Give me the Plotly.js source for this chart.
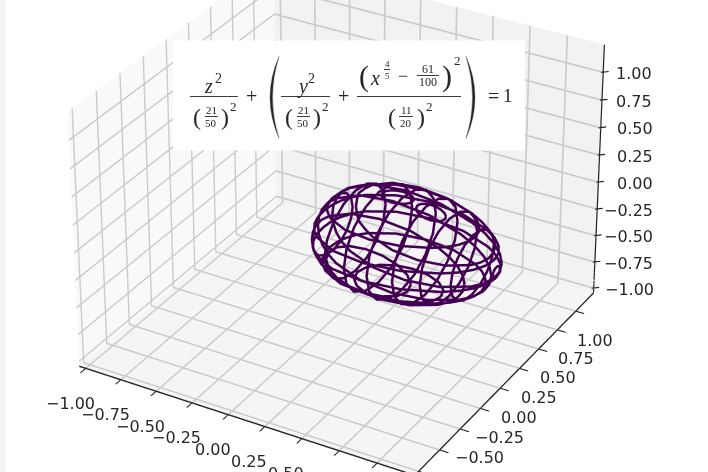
<!DOCTYPE html>
<html><head><meta charset="utf-8">
<script src="https://cdn.plot.ly/plotly-3.0.1.min.js"></script>
<style>
html,body{margin:0;padding:0;width:708px;height:472px;overflow:hidden;background:#fff}
#strip{position:absolute;left:0;top:0;width:7px;height:472px;background:linear-gradient(to right,#f3f3f3 0,#f3f3f3 4px,#fff 7px);z-index:5}
#chart{position:absolute}
</style></head><body><div id="strip"></div><div id="chart"></div>
<script>
const axisTicks=[-1,-0.75,-0.5,-0.25,0,0.25,0.5,0.75,1];
const axisRange=[-1.046,1.246];
const sliceLevels=[-0.371,-0.214,-0.057,0.1,0.257,0.414];
const loopX0=[0.838,0.814,0.748,0.650,0.539,0.432,0.346,0.290,0.271,0.290,0.346,0.432,0.539,0.650,0.748,0.814,0.838];
const loopW0=[0,0.075,0.139,0.182,0.197,0.182,0.139,0.075,0,-0.075,-0.139,-0.182,-0.197,-0.182,-0.139,-0.075,0];
const loopX1=[1.105,1.093,1.059,1.004,0.931,0.746,0.539,0.347,0.200,0.148,0.112,0.090,0.083,0.090,0.112,0.148,0.200,0.347,0.539,0.746,0.931,1.004,1.059,1.093,1.105];
const loopW1=[0,0.070,0.138,0.201,0.255,0.334,0.361,0.334,0.255,0.201,0.138,0.070,0,-0.070,-0.138,-0.201,-0.255,-0.334,-0.361,-0.334,-0.255,-0.201,-0.138,-0.070,0];
const loopX2=[1.197,1.184,1.144,1.079,0.994,0.779,0.539,0.319,0.155,0.099,0.061,0.039,0.033,0.039,0.061,0.099,0.155,0.319,0.539,0.779,0.994,1.079,1.144,1.184,1.197];
const loopW2=[0,0.081,0.159,0.231,0.294,0.384,0.416,0.384,0.294,0.231,0.159,0.081,0,-0.081,-0.159,-0.231,-0.294,-0.384,-0.416,-0.384,-0.294,-0.231,-0.159,-0.081,0];
const loopX3=[1.183,1.170,1.131,1.068,0.984,0.774,0.539,0.324,0.161,0.106,0.068,0.047,0.040,0.047,0.068,0.106,0.161,0.324,0.539,0.774,0.984,1.068,1.131,1.170,1.183];
const loopW3=[0,0.080,0.156,0.227,0.288,0.377,0.408,0.377,0.288,0.227,0.156,0.080,0,-0.080,-0.156,-0.227,-0.288,-0.377,-0.408,-0.377,-0.288,-0.227,-0.156,-0.080,0];
const loopX4=[1.057,1.046,1.015,0.964,0.898,0.729,0.539,0.362,0.224,0.175,0.132,0.120,0.113,0.120,0.132,0.175,0.224,0.362,0.539,0.729,0.898,0.964,1.015,1.046,1.057];
const loopW4=[0,0.065,0.127,0.185,0.235,0.307,0.332,0.307,0.235,0.185,0.127,0.065,0,-0.065,-0.127,-0.185,-0.235,-0.307,-0.332,-0.307,-0.235,-0.185,-0.127,-0.065,0];
const loopX5=[0.643,0.635,0.612,0.578,0.539,0.500,0.468,0.446,0.439,0.446,0.468,0.500,0.539,0.578,0.612,0.635,0.643];
const loopW5=[0,0.027,0.050,0.065,0.071,0.065,0.050,0.027,0,-0.027,-0.050,-0.065,-0.071,-0.065,-0.050,-0.027,0];
const ringLevels=[0.1,0.257,0.414,0.571,0.729,0.886,1.043,1.2];
const ringU0=[0.240,0.222,0.170,0.092,0,-0.092,-0.170,-0.222,-0.240,-0.222,-0.170,-0.092,0,0.092,0.170,0.222,0.240];
const ringV0=[0,0.092,0.170,0.222,0.240,0.222,0.170,0.092,0,-0.092,-0.170,-0.222,-0.240,-0.222,-0.170,-0.092,0];
const ringU1=[0.365,0.337,0.258,0.140,0,-0.140,-0.258,-0.337,-0.365,-0.337,-0.258,-0.140,0,0.140,0.258,0.337,0.365];
const ringV1=[0,0.140,0.258,0.337,0.365,0.337,0.258,0.140,0,-0.140,-0.258,-0.337,-0.365,-0.337,-0.258,-0.140,0];
const ringU2=[0.411,0.380,0.291,0.157,0,-0.157,-0.291,-0.380,-0.411,-0.380,-0.291,-0.157,0,0.157,0.291,0.380,0.411];
const ringV2=[0,0.157,0.291,0.380,0.411,0.380,0.291,0.157,0,-0.157,-0.291,-0.380,-0.411,-0.380,-0.291,-0.157,0];
const ringU3=[0.419,0.387,0.296,0.160,0,-0.160,-0.296,-0.387,-0.419,-0.387,-0.296,-0.160,0,0.160,0.296,0.387,0.419];
const ringV3=[0,0.160,0.296,0.387,0.419,0.387,0.296,0.160,0,-0.160,-0.296,-0.387,-0.419,-0.387,-0.296,-0.160,0];
const ringU4=[0.400,0.370,0.283,0.153,0,-0.153,-0.283,-0.370,-0.400,-0.370,-0.283,-0.153,0,0.153,0.283,0.370,0.400];
const ringV4=[0,0.153,0.283,0.370,0.400,0.370,0.283,0.153,0,-0.153,-0.283,-0.370,-0.400,-0.370,-0.283,-0.153,0];
const ringU5=[0.353,0.326,0.250,0.135,0,-0.135,-0.250,-0.326,-0.353,-0.326,-0.250,-0.135,0,0.135,0.250,0.326,0.353];
const ringV5=[0,0.135,0.250,0.326,0.353,0.326,0.250,0.135,0,-0.135,-0.250,-0.326,-0.353,-0.326,-0.250,-0.135,0];
const ringU6=[0.268,0.248,0.189,0.103,0,-0.103,-0.189,-0.248,-0.268,-0.248,-0.189,-0.103,0,0.103,0.189,0.248,0.268];
const ringV6=[0,0.103,0.189,0.248,0.268,0.248,0.189,0.103,0,-0.103,-0.189,-0.248,-0.268,-0.248,-0.189,-0.103,0];
const ringU7=[0.044,0.041,0.031,0.017,0,-0.017,-0.031,-0.041,-0.044,-0.041,-0.031,-0.017,0,0.017,0.031,0.041,0.044];
const ringV7=[0,0.017,0.031,0.041,0.044,0.041,0.031,0.017,0,-0.017,-0.031,-0.041,-0.044,-0.041,-0.031,-0.017,0];

const loopsX=[loopX0,loopX1,loopX2,loopX3,loopX4,loopX5], loopsW=[loopW0,loopW1,loopW2,loopW3,loopW4,loopW5];
const ringsU=[ringU0,ringU1,ringU2,ringU3,ringU4,ringU5,ringU6,ringU7], ringsV=[ringV0,ringV1,ringV2,ringV3,ringV4,ringV5,ringV6,ringV7];
const wire={type:'scatter3d',mode:'lines',line:{color:'#440154',width:5},hoverinfo:'skip',showlegend:false};
const traces=[];
sliceLevels.forEach((lv,i)=>{
  const flat=loopsX[i].map(()=>lv);
  traces.push(Object.assign({},wire,{x:loopsX[i],y:loopsW[i],z:flat}));
  traces.push(Object.assign({},wire,{x:loopsX[i],y:flat,z:loopsW[i]}));
});
ringLevels.forEach((lv,i)=>{
  traces.push(Object.assign({},wire,{x:ringsU[i].map(()=>lv),y:ringsU[i],z:ringsV[i]}));
});
const hi=axisRange[1], lo=axisRange[0];
traces.push({type:'scatter3d',mode:'lines',x:[hi,hi],y:[hi,hi],z:axisRange,line:{color:'#262626',width:2.5},hoverinfo:'skip',showlegend:false});

const W=668,H=2786,LEFT=7,TOP=205.5-H/2,D=8.75;
const el=document.getElementById('chart');
el.style.left=LEFT+'px';el.style.top=TOP+'px';
const fx=p=>(p-LEFT)/W, fy=p=>1-(p-TOP)/H;
const ink='#262626', serif='Liberation Serif';
const anns=[],shapes=[{type:'rect',xref:'paper',yref:'paper',layer:'above',x0:fx(173),x1:fx(525),y0:fy(40),y1:fy(150),fillcolor:'#fff',line:{width:0}}];
const t=(x,y,text,size)=>anns.push({xref:'paper',yref:'paper',x:fx(x),y:fy(y),text,showarrow:false,xanchor:'center',yanchor:'middle',borderpad:0,font:{family:serif,size,color:ink}});
const bar=(a,b,y)=>shapes.push({type:'line',xref:'paper',yref:'paper',layer:'above',x0:fx(a),x1:fx(b),y0:fy(y),y1:fy(y),line:{color:ink,width:0.9}});
const crescent=(tipX,outX,inX)=>shapes.push({type:'path',xref:'paper',yref:'paper',layer:'above',fillcolor:ink,line:{color:ink,width:0.3},
  path:`M${fx(tipX)},${fy(56)} Q${fx(outX)},${fy(97)} ${fx(tipX)},${fy(138)} Q${fx(inX)},${fy(97)} ${fx(tipX)},${fy(56)} Z`});
bar(190,238,96);bar(281,330,96);bar(357,461,96);
bar(205,218,116);bar(297,310,116);bar(399,413,116);bar(417,439,75);bar(384,390,69);
crescent(279,261,266);crescent(466,484,479);
t(208,85,'<i>z</i>',20);t(218,78,'2',14);
t(197,117,'(',24);t(225,117,')',24);t(233,106,'2',13);
t(211,109,'21',11);t(211,123,'50',11);
t(252,95,'+',20);
t(302,86,'<i>y</i>',20);t(311,78,'2',14);
t(289,117,'(',24);t(317,117,')',24);t(325,106,'2',13);
t(303,109,'21',11);t(303,123,'50',11);
t(344,95,'+',20);
t(364,76,'(',30);t(447,76,')',30);t(457,60,'2',13);
t(375,77,'<i>x</i>',20);
t(387,64,'4',9);t(387,75,'5',9);
t(403,76,'−',18);
t(428,68,'61',12);t(428,82,'100',12);
t(392,117,'(',24);t(421,117,')',24);t(429,106,'2',13);
t(406,109,'11',11);t(406,123,'20',11);
t(493,95,'=',20);t(508,95,'1',19);

const tickText=v=>(v<0?'−':'')+Math.abs(v).toFixed(2);
const sceneAnns=[];
const label=(x,y,z,text,xshift,yshift,xanchor)=>sceneAnns.push({x,y,z,text,showarrow:false,xshift,yshift,xanchor:xanchor||'center',yanchor:'middle',font:{family:'DejaVu Sans',size:16,color:ink}});
axisTicks.forEach(v=>{
  label(v,lo,lo,tickText(v),-15.5,-35);
  label(hi,v,lo,tickText(v),19,-29);
  label(hi,hi,v,tickText(v),655-593-(v+1)/2*11,-1,'right');
  sceneAnns.push({x:hi,y:hi,z:v,text:' ',showarrow:true,arrowhead:0,arrowwidth:1.2,arrowcolor:ink,ax:9,ay:-1,xshift:-2,font:{size:1}});
});

const ax=(bg,tick)=>({range:axisRange,autorange:false,tickmode:'array',tickvals:axisTicks,title:{text:''},showticklabels:false,
  showgrid:true,gridcolor:'#cbcbcb',gridwidth:3.5,zeroline:false,showline:tick,linecolor:ink,linewidth:3,
  ticks:tick?'outside':'',ticklen:8,tickwidth:2.5,tickcolor:ink,
  showbackground:true,backgroundcolor:bg,showspikes:false});
Plotly.newPlot(el,traces,{width:W,height:H,margin:{l:0,r:0,t:0,b:0},paper_bgcolor:'#fff',showlegend:false,hovermode:false,
  scene:{domain:{x:[0,1],y:[0,1]},aspectmode:'manual',aspectratio:{x:1,y:1,z:0.755},
    camera:{eye:{x:D*0.433,y:-D*0.75,z:D*0.5},center:{x:0,y:0,z:0},up:{x:0,y:0,z:1},projection:{type:'perspective'}},
    xaxis:ax('#f9f9f9',true),yaxis:ax('#f2f2f2',true),zaxis:ax('#f5f5f5',false),annotations:sceneAnns},
  annotations:anns,shapes:shapes},{displayModeBar:false});
</script></body></html>
